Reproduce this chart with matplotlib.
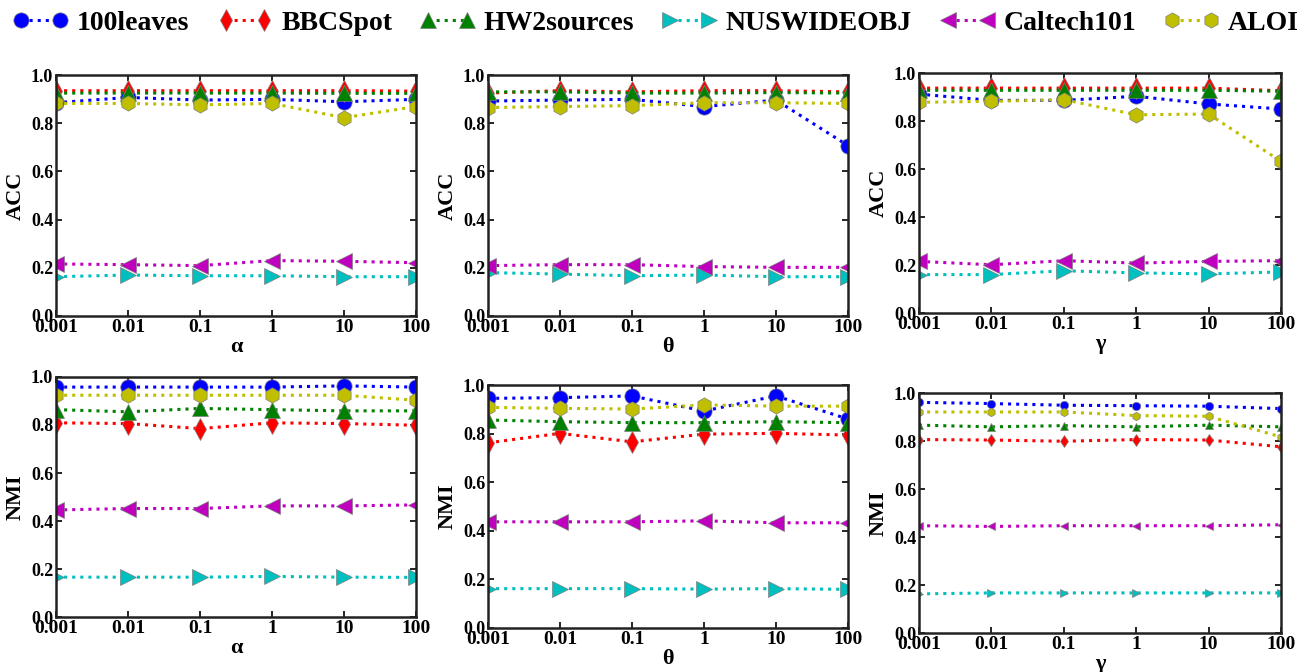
import matplotlib
matplotlib.use('Agg')
import matplotlib.pyplot as plt

# figure size in pixels (dpi 100)
W, H = 1309, 672

x_labels = ['0.001', '0.01', '0.1', '1', '10', '100']
datasets = ['100leaves', 'BBCSpot', 'HW2sources', 'NUSWIDEOBJ', 'Caltech101', 'ALOI']
colors = ['#0000ff', '#ff0000', '#008000', '#00bfbf', '#bf00bf', '#bfbf00']
markers = ['o', 'd', '^', '>', '<', 'h']

# ACC, varying alpha
acc_alpha = {
    '100leaves':  [0.885, 0.907, 0.896, 0.899, 0.889, 0.899],
    'BBCSpot':    [0.935, 0.935, 0.935, 0.935, 0.935, 0.933],
    'HW2sources': [0.925, 0.925, 0.925, 0.925, 0.924, 0.924],
    'NUSWIDEOBJ': [0.163, 0.170, 0.167, 0.167, 0.163, 0.163],
    'Caltech101': [0.216, 0.213, 0.209, 0.230, 0.227, 0.221],
    'ALOI':       [0.882, 0.882, 0.876, 0.882, 0.823, 0.869],
}

# ACC, varying theta
acc_theta = {
    '100leaves':  [0.892, 0.896, 0.899, 0.869, 0.896, 0.707],
    'BBCSpot':    [0.925, 0.935, 0.930, 0.935, 0.935, 0.930],
    'HW2sources': [0.930, 0.930, 0.925, 0.925, 0.927, 0.925],
    'NUSWIDEOBJ': [0.180, 0.174, 0.167, 0.170, 0.163, 0.163],
    'Caltech101': [0.209, 0.213, 0.213, 0.205, 0.202, 0.202],
    'ALOI':       [0.865, 0.869, 0.873, 0.885, 0.885, 0.882],
}

# ACC, varying gamma
acc_gamma = {
    '100leaves':  [0.912, 0.886, 0.886, 0.903, 0.871, 0.850],
    'BBCSpot':    [0.937, 0.937, 0.937, 0.937, 0.937, 0.926],
    'HW2sources': [0.928, 0.928, 0.928, 0.928, 0.928, 0.924],
    'NUSWIDEOBJ': [0.160, 0.160, 0.176, 0.167, 0.163, 0.171],
    'Caltech101': [0.215, 0.201, 0.218, 0.208, 0.215, 0.218],
    'ALOI':       [0.878, 0.882, 0.889, 0.826, 0.829, 0.632],
}

# NMI, varying alpha
nmi_alpha = {
    '100leaves':  [0.958, 0.958, 0.958, 0.958, 0.963, 0.958],
    'BBCSpot':    [0.809, 0.806, 0.785, 0.809, 0.806, 0.799],
    'HW2sources': [0.864, 0.855, 0.869, 0.864, 0.859, 0.859],
    'NUSWIDEOBJ': [0.166, 0.166, 0.166, 0.169, 0.166, 0.165],
    'Caltech101': [0.446, 0.452, 0.452, 0.463, 0.463, 0.467],
    'ALOI':       [0.924, 0.924, 0.924, 0.924, 0.924, 0.903],
}

# NMI, varying theta
nmi_theta = {
    '100leaves':  [0.945, 0.948, 0.955, 0.893, 0.955, 0.860],
    'BBCSpot':    [0.762, 0.801, 0.766, 0.798, 0.801, 0.794],
    'HW2sources': [0.856, 0.849, 0.845, 0.845, 0.849, 0.845],
    'NUSWIDEOBJ': [0.162, 0.162, 0.162, 0.160, 0.162, 0.159],
    'Caltech101': [0.437, 0.437, 0.437, 0.441, 0.433, 0.433],
    'ALOI':       [0.908, 0.904, 0.901, 0.918, 0.913, 0.913],
}

# NMI, varying gamma
nmi_gamma = {
    '100leaves':  [0.961, 0.956, 0.949, 0.947, 0.945, 0.935],
    'BBCSpot':    [0.806, 0.804, 0.799, 0.806, 0.804, 0.776],
    'HW2sources': [0.866, 0.859, 0.864, 0.859, 0.866, 0.859],
    'NUSWIDEOBJ': [0.163, 0.167, 0.167, 0.167, 0.167, 0.167],
    'Caltech101': [0.447, 0.444, 0.447, 0.447, 0.447, 0.451],
    'ALOI':       [0.921, 0.921, 0.921, 0.906, 0.903, 0.817],
}

plt.rcParams['font.family'] = ['Liberation Serif', 'DejaVu Serif']
plt.rcParams['font.weight'] = 'bold'
plt.rcParams['axes.labelweight'] = 'bold'

fig = plt.figure(figsize=(W / 100, H / 100), dpi=100)

# (data, ylabel, xlabel, axes box in pixels x0, x1, y_top, y_bottom, marker size)
panels = [
    (acc_alpha, 'ACC', '\u03b1', (56, 416, 75, 316), 11),
    (acc_theta, 'ACC', '\u03b8', (488, 848, 75, 316), 11),
    (acc_gamma, 'ACC', '\u03b3', (919, 1281, 73, 313), 11),
    (nmi_alpha, 'NMI', '\u03b1', (56, 416, 377, 617), 11),
    (nmi_theta, 'NMI', '\u03b8', (488, 848, 385, 628), 11),
    (nmi_gamma, 'NMI', '\u03b3', (919, 1281, 393, 633), 6),
]

xpos = list(range(len(x_labels)))
legend_handles = []

for p, (data, ylab, xlab, box, ms) in enumerate(panels):
    x0, x1, yt, yb = box
    ax = fig.add_axes([x0 / W, 1 - yb / H, (x1 - x0) / W, (yb - yt) / H])
    for name, c, m in zip(datasets, colors, markers):
        line, = ax.plot(xpos, data[name], linestyle=':', linewidth=2.2, color=c,
                        marker=m, markersize=ms, markeredgecolor='#808080',
                        markeredgewidth=0.5, label=name)
        if p == 0:
            legend_handles.append(line)
    ax.set_xlim(0, 5)
    ax.set_ylim(0, 1)
    ax.set_xticks(xpos)
    ax.set_xticklabels(x_labels)
    ax.set_yticks([0, 0.2, 0.4, 0.6, 0.8, 1.0])
    ax.set_yticklabels(['0.0', '0.2', '0.4', '0.6', '0.8', '1.0'])
    ax.tick_params(direction='in', top=True, right=True, length=4, width=1.2,
                   pad=2)
    ax.tick_params(axis='x', labelsize=14)
    ax.tick_params(axis='y', labelsize=13)
    for s in ax.spines.values():
        s.set_linewidth(1.8)
        s.set_color('#222222')
    ax.set_ylabel(ylab, fontsize=16, labelpad=4)
    ax.set_xlabel(xlab, fontsize=16, labelpad=1)

# one-row legend across the top
fig.legend(legend_handles, datasets, loc='center', ncol=6,
           bbox_to_anchor=(656 / W, 1 - 23 / H), frameon=False,
           handlelength=2.0, handletextpad=0.3, columnspacing=1.0,
           borderpad=0, borderaxespad=0, numpoints=2,
           prop={'weight': 'bold', 'size': 20})

fig.savefig('out.png', dpi=100)
